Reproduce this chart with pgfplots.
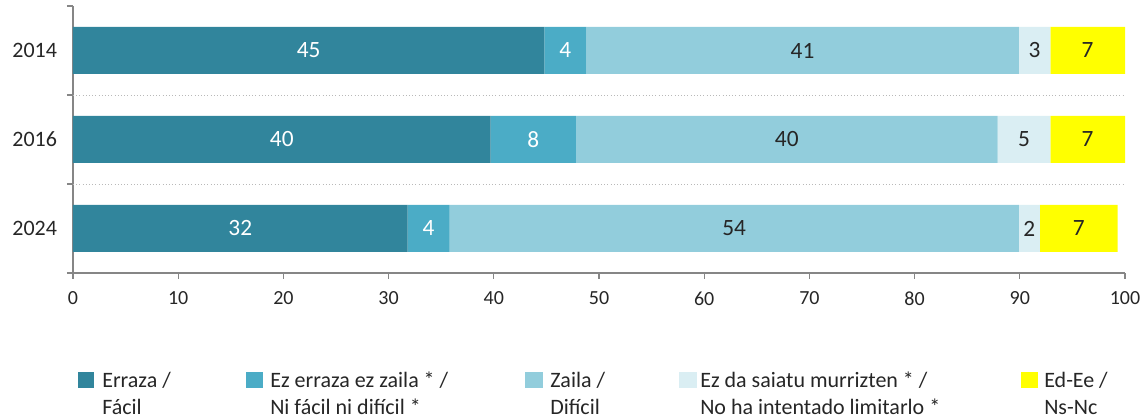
\documentclass[border=0pt]{standalone}
\usepackage{pgfplots}
\pgfplotsset{compat=1.18}
\usepackage{fontspec}
\setmainfont{Carlito}
\definecolor{c1}{HTML}{31859C}
\definecolor{c2}{HTML}{4BACC6}
\definecolor{c3}{HTML}{92CDDC}
\definecolor{c4}{HTML}{DAEEF3}
\definecolor{c5}{HTML}{FFFF00}
\definecolor{axgray}{HTML}{868686}
\definecolor{txt}{HTML}{262626}
\newcommand{\bigf}{\fontsize{16.5}{20}\selectfont}
\newcommand{\barf}{\fontsize{17.5}{21}\selectfont}
\newcommand{\tickf}{\fontsize{15}{18}\selectfont}
\begin{document}
\begin{tikzpicture}[x=0.75pt,y=0.75pt]
\useasboundingbox (-73,-147) rectangle (1074,273);
\begin{axis}[
  at={(0,0)}, anchor=south west,
  scale only axis, width=789pt, height=200.25pt,
  xbar stacked, bar width=35.25pt,
  xmin=0, xmax=100, ymin=-0.5, ymax=2.5,
  axis lines*=left,
  axis line style={draw=axgray, line width=0.9pt},
  tick align=outside,
  major tick length=4.5pt, minor tick length=4.5pt,
  every tick/.style={draw=axgray, line width=0.9pt},
  xtick={0,10,...,100},
  ytick={0,1,2}, yticklabels={2024,2016,2014},
  major y tick style={draw=none},
  minor ytick={-0.5,0.5,1.5,2.5},
  extra y ticks={0.5,1.5}, extra y tick labels={},
  extra y tick style={grid=major, major grid style={draw=gray!55, dotted, line width=0.7pt}},
  /pgf/number format/assume math mode=true,
  xticklabel style={font=\tickf, text=txt, yshift=-6pt},
  yticklabel style={font=\bigf, text=txt, xshift=-4pt},
  nodes near coords,
  point meta=explicit symbolic,
  every node near coord/.append style={font=\barf, anchor=center},
]
\addplot[fill=c1, draw=none, nodes near coords style={text=white}] table[x=v,y=y,meta=l] {
y v l
2 44.8 45
1 39.7 40
0 31.8 32
};
\addplot[fill=c2, draw=none, nodes near coords style={text=white}] table[x=v,y=y,meta=l] {
y v l
2 4.0 4
1 8.1 8
0 4.0 4
};
\addplot[fill=c3, draw=none, nodes near coords style={text=txt}] table[x=v,y=y,meta=l] {
y v l
2 41.1 41
1 40.1 40
0 54.1 54
};
\addplot[fill=c4, draw=none, nodes near coords style={text=txt}] table[x=v,y=y,meta=l] {
y v l
2 3.0 3
1 5.0 5
0 2.0 2
};
\addplot[fill=c5, draw=none, nodes near coords style={text=txt}] table[x=v,y=y,meta=l] {
y v l
2 7.1 7
1 7.1 7
0 7.4 7
};
\end{axis}
% legend
\begin{scope}[every node/.style={font=\bigf, text=txt, anchor=base west, inner sep=0pt}]
\fill[c1] (5,-99) rectangle (21,-115);
\node at (29,-115) {Erraza /};
\node at (29,-142) {Fácil};
\fill[c2] (173,-99) rectangle (190,-115);
\node at (197,-115) {Ez erraza ez zaila * /};
\node at (197,-142) {Ni fácil ni difícil *};
\fill[c3] (452,-99) rectangle (470,-115);
\node at (477,-115) {Zaila /};
\node at (477,-142) {Difícil};
\fill[c4] (606,-99) rectangle (624,-115);
\node at (627,-115) {Ez da saiatu murrizten * /};
\node at (627,-142) {No ha intentado limitarlo *};
\fill[c5] (948,-99) rectangle (965,-115);
\node at (971,-115) {Ed-Ee /};
\node at (971,-142) {Ns-Nc};
\end{scope}
\end{tikzpicture}
\end{document}
